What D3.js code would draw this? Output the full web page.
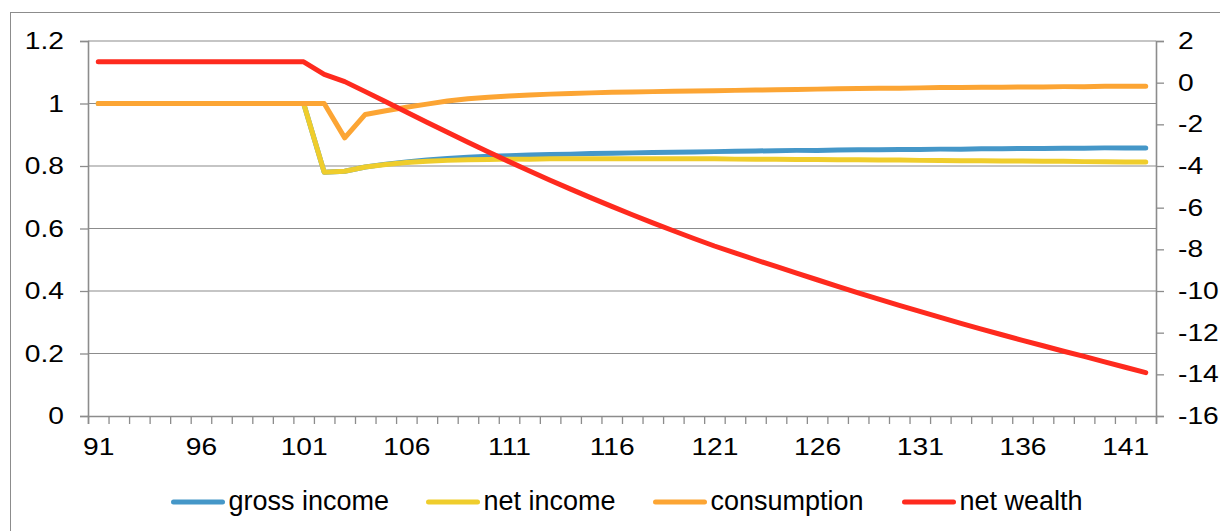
<!DOCTYPE html>
<html>
<head>
<meta charset="utf-8">
<script src="https://cdn.jsdelivr.net/npm/d3@7"></script>
<style>
  body { margin: 0; background: #fff; }
  svg { display: block; }
  text { font-family: "Liberation Sans", Arial, sans-serif; fill: #000; }
</style>
</head>
<body>
<div id="chart"></div>
<script>
// years on the category axis
var years = d3.range(91, 143);

var grossIncome = [1, 1, 1, 1, 1, 1, 1, 1, 1, 1, 1,
  0.78, 0.783, 0.797, 0.806, 0.813, 0.819, 0.824, 0.828, 0.831, 0.833,
  0.835, 0.837, 0.838, 0.840, 0.841, 0.842, 0.843, 0.844, 0.845, 0.846,
  0.847, 0.848, 0.849, 0.850, 0.850, 0.851, 0.852, 0.852, 0.853, 0.853,
  0.854, 0.854, 0.855, 0.855, 0.856, 0.856, 0.857, 0.857, 0.858, 0.858, 0.858];

var netIncome = [1, 1, 1, 1, 1, 1, 1, 1, 1, 1, 1,
  0.78, 0.783, 0.797, 0.805, 0.811, 0.815, 0.818, 0.820, 0.821, 0.822,
  0.822, 0.823, 0.823, 0.823, 0.823, 0.823, 0.823, 0.823, 0.823, 0.823,
  0.822, 0.822, 0.822, 0.821, 0.821, 0.820, 0.820, 0.819, 0.819, 0.818,
  0.818, 0.817, 0.817, 0.816, 0.816, 0.815, 0.815, 0.814, 0.814, 0.813, 0.813];

var consumption = [1, 1, 1, 1, 1, 1, 1, 1, 1, 1, 1, 1,
  0.89, 0.965, 0.977, 0.988, 0.998, 1.008, 1.015, 1.020, 1.024,
  1.027, 1.030, 1.032, 1.034, 1.036, 1.037, 1.038, 1.039, 1.040, 1.041,
  1.042, 1.043, 1.044, 1.045, 1.046, 1.047, 1.048, 1.049, 1.049, 1.050,
  1.051, 1.051, 1.052, 1.052, 1.053, 1.053, 1.054, 1.054, 1.055, 1.055, 1.055];

// plotted against the right axis
var netWealth = [1, 1, 1, 1, 1, 1, 1, 1, 1, 1, 1,
  0.4, 0.05, -0.43, -0.92, -1.41, -1.90, -2.38, -2.86, -3.33, -3.79,
  -4.24, -4.68, -5.11, -5.53, -5.94, -6.34, -6.73, -7.11, -7.48, -7.84,
  -8.17, -8.50, -8.82, -9.14, -9.46, -9.78, -10.09, -10.39, -10.69, -10.98,
  -11.27, -11.55, -11.83, -12.10, -12.37, -12.63, -12.89, -13.14, -13.40, -13.66, -13.92];

var leftTicks = [0, 0.2, 0.4, 0.6, 0.8, 1, 1.2];
var rightTicks = [-16, -14, -12, -10, -8, -6, -4, -2, 0, 2];
var xLabels = [91, 96, 101, 106, 111, 116, 121, 126, 131, 136, 141];

var seriesNames = ["gross income", "net income", "consumption", "net wealth"];
var seriesColors = ["#4597c8", "#efcd2c", "#fca534", "#fe2a1e"];

var svgWidth = 1220;
var svgHeight = 531;

var margin = { top: 41, bottom: 115, left: 88, right: 64 };
var width = svgWidth - margin.left - margin.right;
var height = svgHeight - margin.top - margin.bottom;

var svg = d3.select("#chart")
  .append("svg")
  .attr("width", svgWidth)
  .attr("height", svgHeight);

// outer chart frame (runs off the right and bottom edge)
svg.append("rect")
  .attr("x", 10.5)
  .attr("y", 12.5)
  .attr("width", 1230)
  .attr("height", 540)
  .attr("fill", "none")
  .attr("stroke", "#8c8c8c")
  .attr("stroke-width", 1);

var chartGroup = svg.append("g")
  .attr("transform", `translate(${margin.left}, ${margin.top})`);

// scales
var xScale = d3.scaleLinear()
  .domain([years[0] - 0.5, years[years.length - 1] + 0.5])
  .range([0, width]);
var yLeft = d3.scaleLinear()
  .domain([0, 1.2])
  .range([height, 0]);
var yRight = d3.scaleLinear()
  .domain([-16, 2])
  .range([height, 0]);

// horizontal gridlines from the left axis
chartGroup.append("g")
  .selectAll("line")
  .data(leftTicks.filter(d => d > 0))
  .enter()
  .append("line")
  .attr("x1", 0)
  .attr("x2", width)
  .attr("y1", d => yLeft(d))
  .attr("y2", d => yLeft(d))
  .attr("stroke", "#8c8c8c")
  .attr("stroke-width", 1.2);

// left axis
var leftAxis = chartGroup.append("g")
  .call(d3.axisLeft(yLeft).tickValues(leftTicks).tickSize(8).tickPadding(16)
    .tickFormat(d => String(d)));

// right axis
var rightAxis = chartGroup.append("g")
  .attr("transform", `translate(${width}, 0)`)
  .call(d3.axisRight(yRight).tickValues(rightTicks).tickSize(8).tickPadding(14)
    .tickFormat(d => String(d)));

// x axis: tick marks on category boundaries
var xTickAxis = chartGroup.append("g")
  .attr("transform", `translate(0, ${height})`)
  .call(d3.axisBottom(xScale)
    .tickValues(d3.range(years.length + 1).map(i => years[0] - 0.5 + i))
    .tickSize(8)
    .tickFormat(""));

// x axis labels every 5 years
var xLabelAxis = chartGroup.append("g")
  .attr("transform", `translate(0, ${height})`)
  .call(d3.axisBottom(xScale).tickValues(xLabels).tickSize(0).tickPadding(22)
    .tickFormat(d => String(d)));
xLabelAxis.select(".domain").remove();

[leftAxis, rightAxis, xTickAxis].forEach(function(g) {
  g.selectAll(".domain").attr("stroke", "#8c8c8c").attr("stroke-width", 1.6);
  g.selectAll(".tick line").attr("stroke", "#8c8c8c").attr("stroke-width", 1.3);
});

// tick labels in the picture are a little wide, so stretch them sideways
[leftAxis, rightAxis, xLabelAxis].forEach(function(g) {
  g.selectAll(".tick text")
    .style("font-family", "'Liberation Sans', Arial, sans-serif")
    .style("font-size", "23.5px")
    .attr("fill", "#000")
    .each(function() {
      var t = d3.select(this);
      var tx = +t.attr("x") || 0;
      t.attr("x", 0).attr("transform", `translate(${tx},0) scale(1.2,1)`);
    });
});
rightAxis.selectAll(".tick text").attr("text-anchor", "start");

// lines
var allSeries = [grossIncome, netIncome, consumption, netWealth];

allSeries.forEach(function(values, i) {
  var yScale = (i === 3) ? yRight : yLeft;
  var line = d3.line()
    .x((d, j) => xScale(years[j]))
    .y(d => yScale(d));
  chartGroup.append("path")
    .datum(values)
    .attr("d", line)
    .attr("fill", "none")
    .attr("stroke", seriesColors[i])
    .attr("stroke-width", 5)
    .attr("stroke-linejoin", "round")
    .attr("stroke-linecap", "round");
});

// legend
var legendX = [171, 426, 653, 902];
var legendY = 502;
var legend = svg.append("g");

seriesNames.forEach(function(name, i) {
  var item = legend.append("g")
    .attr("transform", `translate(${legendX[i]}, ${legendY})`);
  item.append("line")
    .attr("x1", 2.5)
    .attr("x2", 51.5)
    .attr("y1", 0)
    .attr("y2", 0)
    .attr("stroke", seriesColors[i])
    .attr("stroke-width", 5)
    .attr("stroke-linecap", "round");
  item.append("text")
    .attr("x", 57.5)
    .attr("y", 8)
    .style("font-size", "27px")
    .text(name);
});
</script>
</body>
</html>
